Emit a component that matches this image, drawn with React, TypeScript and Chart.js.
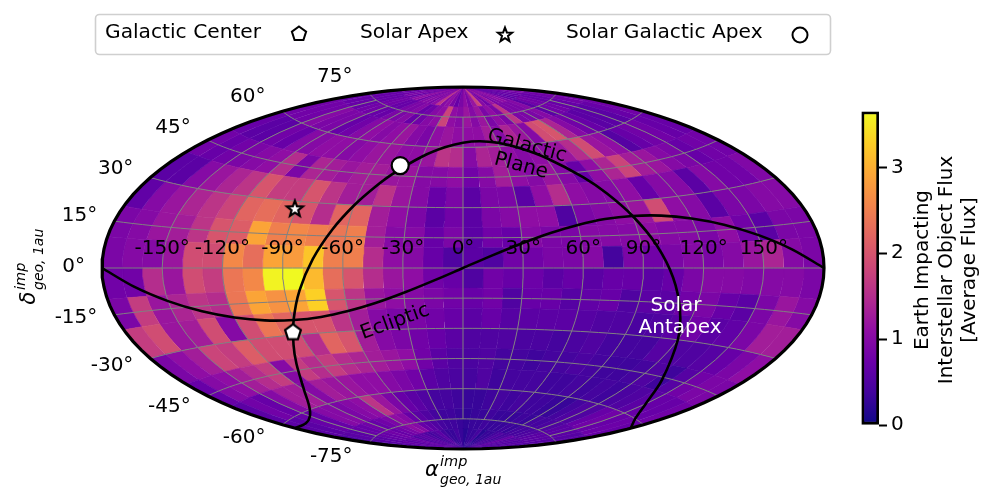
import React, { useEffect, useRef } from "react";
import { Chart, registerables } from "chart.js";

Chart.register(...registerables);

// Flux per 10° x 10° sky cell, columns run from -180° to +180° right ascension.
const rowN80 = [0.9,0.7,0.8,0.9,0.7,1.0,1.1,0.8,1.0,1.0,0.9,1.1,1.6,1.0,1.1,0.9,0.7,0.9, 1.1,0.9,1.2,1.8,1.0,0.8,1.2,0.9,1.0,1.1,0.9,0.7,0.6,0.7,0.7,0.8,0.9,0.8];
const rowN70 = [0.7,0.7,0.7,0.7,0.8,0.8,0.7,0.7,0.9,0.9,1.0,0.7,0.8,1.0,1.1,1.8,1.1,1.0, 1.2,1.0,1.2,0.9,1.1,0.9,1.6,0.9,0.9,0.9,1.0,0.6,0.8,0.8,0.7,0.7,0.8,0.8];
const rowN60 = [0.8,0.8,0.8,1.0,0.9,0.9,0.7,0.8,1.0,1.1,1.0,1.1,1.2,1.0,0.9,1.1,1.2,1.1, 1.1,1.1,1.3,1.0,1.4,1.2,1.0,1.9,2.0,1.4,1.0,0.8,0.7,0.6,0.6,0.6,0.7,0.8];
const rowN50 = [0.7,0.6,0.6,0.8,0.7,1.0,1.0,1.1,1.1,1.0,1.1,1.2,1.2,1.1,1.1,1.2,1.6,1.5, 1.0,1.4,1.3,1.1,1.0,1.1,1.1,1.2,1.5,1.9,1.2,1.1,0.55,0.7,0.8,0.8,0.7,0.7];
const rowN40 = [0.8,0.7,0.8,0.9,1.0,1.1,1.5,0.9,1.4,1.3,1.2,1.3,1.3,1.2,1.2,1.0,1.0,1.1, 0.8,1.0,1.3,1.1,1.0,1.2,1.0,0.7,1.1,1.4,1.8,1.3,1.2,1.0,0.9,0.7,0.8,0.8];
const rowN30 = [0.6,0.6,1.0,1.2,1.4,1.6,2.0,1.7,1.7,2.0,1.6,1.3,1.3,1.6,1.2,1.0,0.7,0.9, 0.6,0.9,0.9,0.6,1.1,1.5,1.1,1.0,1.0,1.1,0.7,1.0,1.0,0.6,1.0,0.8,0.8,0.95];
const rowN20 = [0.65,1.0,1.2,1.4,1.6,1.8,2.2,2.3,2.2,2.0,1.5,2.2,2.2,1.3,1.1,0.9,0.6,0.8, 0.6,0.9,1.0,1.1,1.1,0.5,0.9,1.0,1.1,1.2,1.9,1.1,1.0,0.6,0.9,0.9,1.0,1.0];
const rowN10 = [0.9,1.0,1.2,1.3,1.6,2.0,2.1,2.9,2.5,2.6,2.5,2.4,2.5,1.3,1.0,1.0,0.7,0.9, 0.6,0.8,0.7,1.0,0.9,0.9,1.0,1.0,1.0,1.1,1.0,1.0,0.9,1.1,0.8,0.6,0.9,0.9];
const rowN00 = [0.9,1.0,1.0,1.2,1.9,1.9,2.6,2.3,2.9,2.8,3.2,2.5,2.5,1.5,1.1,1.0,0.7,0.5, 0.6,0.5,0.8,0.8,0.9,0.9,1.0,0.4,0.9,0.8,0.9,1.0,0.9,1.0,1.2,1.4,1.0,0.9];
const rowS00 = [0.8,0.8,1.5,1.2,1.9,1.7,2.4,2.6,3.6,3.65,3.1,2.3,2.0,1.5,1.2,1.1,0.8,0.7, 0.5,0.8,0.7,0.75,0.6,0.7,0.6,0.7,0.7,0.6,0.7,0.9,1.0,1.0,0.95,1.0,1.0,0.9];
const rowS10 = [0.9,1.7,1.2,1.4,1.6,1.5,2.4,2.9,2.7,2.9,3.3,2.0,1.6,1.2,1.1,1.0,0.9,0.8, 0.7,0.8,0.5,0.7,0.7,0.55,0.65,0.7,0.5,0.6,0.6,0.8,0.9,0.7,0.6,0.9,1.2,1.0];
const rowS20 = [1.7,1.9,1.2,1.3,1.9,1.0,1.9,2.4,2.2,2.0,2.0,1.6,1.3,1.0,0.9,0.9,0.8,0.7, 0.6,0.7,0.55,0.6,0.6,0.6,0.55,0.5,0.5,0.45,0.5,0.6,0.8,0.6,0.65,0.9,1.3,1.3];
const rowS30 = [0.9,1.1,1.3,1.8,1.7,2.1,1.9,1.9,1.9,1.5,2.2,2.0,1.3,1.0,0.9,0.8,0.7,0.6, 0.5,0.5,0.5,0.45,0.45,0.4,0.45,0.5,0.4,0.4,0.4,0.55,0.5,0.5,0.55,0.7,0.9,1.1];
const rowS40 = [0.7,1.0,1.1,1.3,1.5,1.7,1.0,1.7,1.5,1.7,1.5,1.4,1.3,1.2,1.1,0.8,0.6,0.5, 0.45,0.5,0.4,0.4,0.35,0.4,0.4,0.45,0.4,0.35,0.35,0.4,0.5,0.35,0.55,0.8,0.9,0.9];
const rowS50 = [0.6,0.8,0.7,1.0,1.3,1.3,1.0,1.3,1.2,1.2,1.1,1.1,1.0,0.9,0.8,0.6,0.5,0.45, 0.4,0.5,0.35,0.4,0.4,0.4,0.35,0.35,0.4,0.35,0.4,0.35,0.45,0.5,0.6,0.7,0.7,0.8];
const rowS60 = [0.6,0.6,0.7,0.7,1.0,1.0,0.9,1.0,1.1,1.6,1.2,0.9,0.7,0.6,0.5,0.4,0.4,0.35, 0.3,0.3,0.35,0.4,0.35,0.4,0.35,0.35,0.3,0.3,0.4,0.5,0.5,0.7,0.8,0.7,0.75,0.7];
const rowS70 = [0.5,0.6,0.6,0.7,0.7,0.8,0.7,0.8,0.9,1.1,1.0,0.7,0.6,0.5,0.4,0.35,0.35,0.3, 0.25,0.3,0.3,0.35,0.3,0.3,0.3,0.35,0.3,0.4,0.4,0.45,0.5,0.6,0.6,0.6,0.55,0.6];
const rowS80 = [0.5,0.6,0.7,0.6,0.7,0.7,0.5,0.6,0.6,0.5,0.4,0.5,0.6,0.4,0.3,0.3,0.4,0.3, 0.2,0.3,0.3,0.4,0.2,0.3,0.3,0.4,0.5,0.4,0.5,0.7,0.5,0.6,0.5,0.6,0.5,0.6];

const fluxRows = [rowS80,rowS70,rowS60,rowS50,rowS40,rowS30,rowS20,rowS10,rowS00,rowN00,rowN10,rowN20,rowN30,rowN40,rowN50,rowN60,rowN70,rowN80];

const lonTicks = [-150,-120,-90,-60,-30,0,30,60,90,120,150];
const latTicks = [-75,-60,-45,-30,-15,0,15,30,45,60,75];

const eclipticLon = [-180,-165,-150,-135,-120,-105,-90,-75,-60,-45,-30,-15,0,15,30,45,60,75,90,105,120,135,150,165,180];
const eclipticLat = [0,-6.4,-12.2,-17,-20.5,-22.7,-23.4,-22.7,-20.5,-17,-12.2,-6.4,0,6.4,12.2,17,20.5,22.7,23.4,22.7,20.5,17,12.2,6.4,0];
const planeLon = [-180,-165,-150,-135,-120,-105,-97.5,-90,-82.5,-75,-67.5,-60,-52.5,-45,-30,-15,0,15,30,45,60,75,82.5,90,97.5,105,112.5,120,135,150,165,180];
const planeLat = [-62.3,-62.9,-61.8,-58.8,-53,-42.4,-34.2,-23.5,-10.3,4.2,18.1,29.9,39.1,46.1,55.1,59.9,62.3,62.9,61.8,58.8,53,42.4,34.2,23.5,10.3,-4.2,-18.1,-29.9,-46.1,-55.1,-59.9,-62.3];

const galacticCenter = { lon: -93.6, lat: -28.9 };
const solarApex = { lon: -91, lat: 26.5 };
const solarGalacticApex = { lon: -43, lat: 50 };

const legendNames = ["Galactic Center", "Solar Apex", "Solar Galactic Apex"];
const colorbarTitle = ["Earth Impacting", "Interstellar Object Flux", "[Average Flux]"];
const vmax = 3.65;

const plasma = ["#0d0887","#41049d","#6a00a8","#8f0da4","#b12a90","#cc4778","#e16462","#f2844b","#fca636","#fcce25","#f0f921"];
const FONT = '"DejaVu Sans"';
const rad = Math.PI / 180;

function hexRgb(h: string) { return [1,3,5].map((i) => parseInt(h.slice(i, i + 2), 16)); }
function colorFor(v: number) {
  const t = Math.min(1, Math.max(0, v / vmax)) * (plasma.length - 1);
  const i = Math.min(plasma.length - 2, Math.floor(t));
  const a = hexRgb(plasma[i]), b = hexRgb(plasma[i + 1]), f = t - i;
  return `rgb(${a.map((c, k) => Math.round(c + (b[k] - c) * f)).join(",")})`;
}

function aitoff(lonDeg: number, latDeg: number) {
  const l = lonDeg * rad, p = latDeg * rad;
  const alpha = Math.acos(Math.cos(p) * Math.cos(l / 2));
  const sinc = alpha < 1e-6 ? 1 : Math.sin(alpha) / alpha;
  return { x: (2 * Math.cos(p) * Math.sin(l / 2)) / sinc, y: Math.sin(p) / sinc };
}

function edge(a: number[], b: number[], n: number) {
  const out = [];
  for (let i = 0; i < n; i++) out.push(aitoff(a[0] + ((b[0] - a[0]) * i) / n, a[1] + ((b[1] - a[1]) * i) / n));
  return out;
}

function cellPolygon(i: number, j: number) {
  const w = -180 + i * 10, e = w + 10, s = -90 + j * 10, n = s + 10;
  return [...edge([w, s], [e, s], 3), ...edge([e, s], [e, n], 3), ...edge([e, n], [w, n], 3), ...edge([w, n], [w, s], 3)];
}

function marker(kind: string, size: number, lw: number) {
  const c = document.createElement("canvas");
  c.width = c.height = size;
  const g = c.getContext("2d")!;
  const m = size / 2, R = m - lw - 0.5;
  g.beginPath();
  if (kind === "pentagon") {
    for (let i = 0; i < 5; i++) {
      const a = -Math.PI / 2 + (i * 2 * Math.PI) / 5;
      g.lineTo(m + R * Math.cos(a), m + R * Math.sin(a));
    }
  } else if (kind === "star") {
    for (let i = 0; i < 10; i++) {
      const a = -Math.PI / 2 + (i * Math.PI) / 5, r = i % 2 ? R * 0.42 : R;
      g.lineTo(m + r * Math.cos(a), m + r * Math.sin(a));
    }
  } else {
    g.arc(m, m, R, 0, 2 * Math.PI);
  }
  g.closePath();
  g.fillStyle = "#fff";
  g.fill();
  g.strokeStyle = "#000";
  g.lineWidth = lw;
  g.lineJoin = "miter";
  g.stroke();
  return c;
}

function text(g: any, s: string, x: number, y: number, opts: any = {}) {
  g.save();
  g.translate(x, y);
  if (opts.rot) g.rotate((opts.rot * Math.PI) / 180);
  g.font = `${opts.style || ""} ${opts.size || 20}px ${FONT}`;
  g.fillStyle = opts.color || "#000";
  g.textAlign = opts.align || "center";
  g.textBaseline = "middle";
  g.fillText(s, 0, 0);
  g.restore();
}

function mathLabel(g: any, sym: string, x: number, y: number, rot: number) {
  g.save();
  g.translate(x, y);
  g.rotate((rot * Math.PI) / 180);
  text(g, sym, -30, 0, { size: 21, style: "italic" });
  text(g, "imp", -22, -9, { size: 14.5, style: "italic", align: "left" });
  text(g, "geo, 1au", -22, 9, { size: 14, style: "italic", align: "left" });
  g.restore();
}

export default function App() {
  const mapRef = useRef<HTMLCanvasElement>(null);
  const barRef = useRef<HTMLCanvasElement>(null);

  useEffect(() => {
    const pentagon = marker("pentagon", 22, 2.2);
    const star = marker("star", 22, 2.2);
    const pentagonKey = marker("pentagon", 20, 2);
    const starKey = marker("star", 20, 2);
    const circleKey = marker("circle", 20, 2);

    const lineDefaults = { showLine: true, pointRadius: 0, clip: false as any, fill: false };
    const datasets: any[] = [];

    const point = (label: string, p: any, style: any, extra: any = {}) => ({
      type: "scatter", label, data: [aitoff(p.lon, p.lat)], pointStyle: style, clip: false,
      pointRadius: 8.5, pointBackgroundColor: "#fff", pointBorderColor: "#000", pointBorderWidth: 2.2, ...extra,
    });
    datasets.push(point(legendNames[0], galacticCenter, pentagon));
    datasets.push(point(legendNames[1], solarApex, star));
    datasets.push(point(legendNames[2], solarGalacticApex, "circle"));

    datasets.push({ ...lineDefaults, label: "Galactic Plane", data: planeLon.map((l, i) => aitoff(l, planeLat[i])), borderColor: "#000", borderWidth: 2.6, tension: 0.3 });
    datasets.push({ ...lineDefaults, label: "Ecliptic", data: eclipticLon.map((l, i) => aitoff(l, eclipticLat[i])), borderColor: "#000", borderWidth: 2.6, tension: 0.3 });

    const outline = [];
    for (let a = -90; a <= 90; a += 3) outline.push(aitoff(180, a));
    for (let a = 90; a >= -90; a -= 3) outline.push(aitoff(-180, a));
    datasets.push({ ...lineDefaults, label: "frame", data: outline, borderColor: "#000", borderWidth: 3.2 });

    lonTicks.forEach((lon) => {
      const pts = [];
      for (let a = -75; a <= 75; a += 5) pts.push(aitoff(lon, a));
      datasets.push({ ...lineDefaults, label: `lon ${lon}`, data: pts, borderColor: "#808080", borderWidth: 1 });
    });
    latTicks.forEach((lat) => {
      const pts = [];
      for (let a = -180; a <= 180; a += 5) pts.push(aitoff(a, lat));
      datasets.push({ ...lineDefaults, label: `lat ${lat}`, data: pts, borderColor: "#808080", borderWidth: 1 });
    });

    fluxRows.forEach((row, j) => {
      row.forEach((v, i) => {
        const col = colorFor(v);
        datasets.push({ ...lineDefaults, label: "cell", data: cellPolygon(i, j), fill: "shape", backgroundColor: col, borderColor: col, borderWidth: 0.6 });
      });
    });

    const overlay = {
      id: "overlay",
      afterDraw(chart: any) {
        const g = chart.ctx, X = chart.scales.x, Y = chart.scales.y;
        const px = (p: any) => ({ x: X.getPixelForValue(p.x), y: Y.getPixelForValue(p.y) });
        lonTicks.forEach((lon) => {
          const p = px(aitoff(lon, 0));
          text(g, `${lon}°`, p.x, p.y - 19.5);
        });
        latTicks.forEach((lat) => {
          const p = px(aitoff(-180, lat));
          text(g, `${lat}°`, p.x - 17, p.y - 1 - 16 * Math.sin(lat * rad), { align: "right" });
        });
        text(g, "Galactic", 527, 146, { rot: 15 });
        text(g, "Plane", 521, 166, { rot: 15 });
        text(g, "Ecliptic", 395, 322, { rot: -20 });
        text(g, "Solar", 676, 306, { color: "#fff" });
        text(g, "Antapex", 680, 328, { color: "#fff" });
        mathLabel(g, "α", 462, 471, 0);
        mathLabel(g, "δ", 30, 268, -90);

        g.save();
        g.beginPath();
        g.roundRect(95.5, 14.5, 735, 40, 4);
        g.fillStyle = "#fff";
        g.fill();
        g.strokeStyle = "#cfcfcf";
        g.lineWidth = 1.6;
        g.stroke();
        g.restore();
        text(g, legendNames[0], 105, 33, { align: "left", size: 20.2 });
        text(g, legendNames[1], 360, 33, { align: "left", size: 20.2 });
        text(g, legendNames[2], 566, 33, { align: "left", size: 20.2 });
        g.drawImage(pentagonKey, 289, 24);
        g.drawImage(starKey, 495, 25);
        g.drawImage(circleKey, 790, 25);
      },
    };

    const map = new Chart(mapRef.current!, {
      type: "scatter",
      data: { datasets },
      options: {
        responsive: false,
        animation: false,
        events: [],
        layout: { padding: { left: 102, right: 172, top: 87, bottom: 55 } },
        scales: {
          x: { type: "linear", display: false, min: -Math.PI, max: Math.PI },
          y: { type: "linear", display: false, min: -Math.PI / 2, max: Math.PI / 2 },
        },
        plugins: { legend: { display: false }, tooltip: { enabled: false } },
      },
      plugins: [overlay],
    } as any);

    const barTitle = {
      id: "barTitle",
      afterDraw(chart: any) {
        const g = chart.ctx;
        colorbarTitle.forEach((t, i) => text(g, t, 83 + i * 23.5, 180, { rot: -90 }));
      },
    };

    const bar = new Chart(barRef.current!, {
      type: "bar",
      data: {
        labels: ["flux"],
        datasets: [{
          data: [[0, vmax]],
          barPercentage: 1,
          categoryPercentage: 1,
          borderColor: "#000",
          borderWidth: 3,
          borderSkipped: false,
          backgroundColor: (c: any) => {
            const a = c.chart.chartArea;
            if (!a) return plasma[0];
            const grad = c.chart.ctx.createLinearGradient(0, a.bottom, 0, a.top);
            plasma.forEach((h, i) => grad.addColorStop(i / (plasma.length - 1), h));
            return grad;
          },
        }],
      },
      options: {
        responsive: false,
        animation: false,
        events: [],
        layout: { padding: { left: 21.5, right: 0, top: 21.5, bottom: 25 } },
        scales: {
          x: { display: false },
          y: {
            position: "right",
            min: 0,
            max: vmax,
            afterFit(s: any) { s.width = 117; },
            border: { display: false },
            grid: { drawOnChartArea: false, drawTicks: true, tickLength: 8, tickWidth: 2, tickColor: "#000" },
            ticks: { stepSize: 1, includeBounds: false, color: "#000", padding: 4, font: { family: "DejaVu Sans", size: 20 } },
          },
        },
        plugins: { legend: { display: false }, tooltip: { enabled: false } },
      },
      plugins: [barTitle],
    } as any);

    return () => {
      map.destroy();
      bar.destroy();
    };
  }, []);

  return (
    <div style={{ position: "fixed", left: 0, top: 0, width: 996, height: 504, background: "#fff", overflow: "hidden" }}>
      <canvas ref={mapRef} width={996} height={504} style={{ position: "absolute", left: 0, top: 0 }} />
      <canvas ref={barRef} width={156} height={360} style={{ position: "absolute", left: 840, top: 90 }} />
    </div>
  );
}
